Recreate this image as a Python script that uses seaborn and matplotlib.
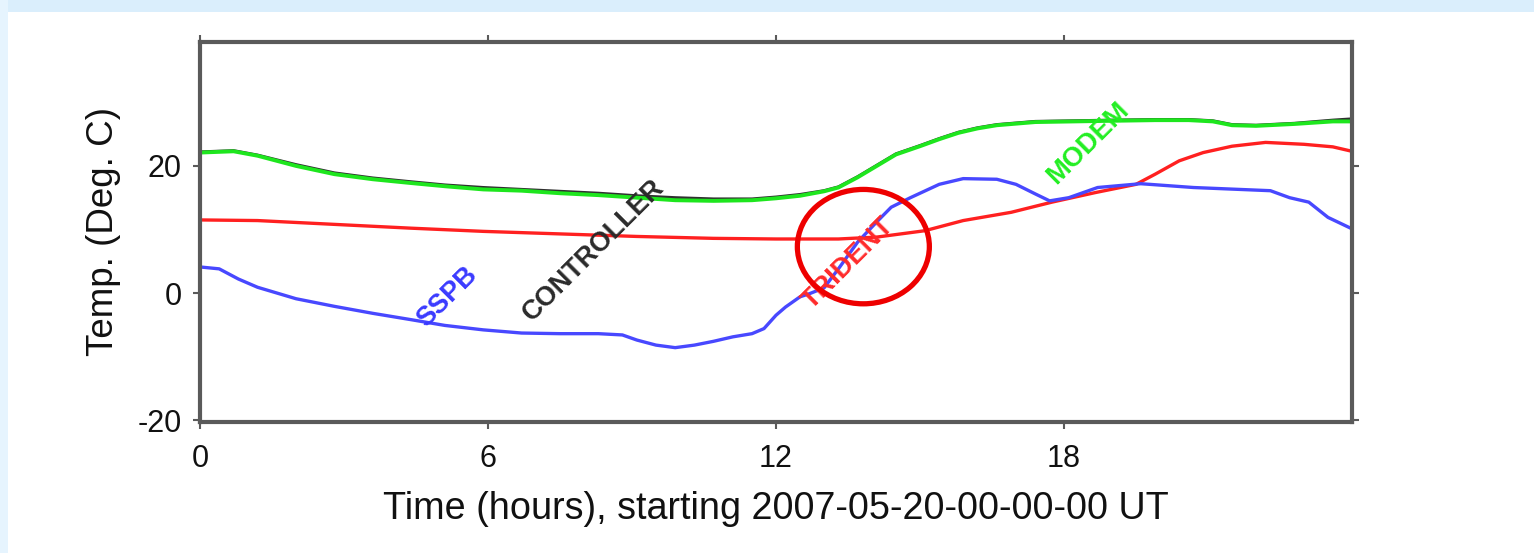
import numpy as np
import pandas as pd
import matplotlib
matplotlib.use("Agg")
import matplotlib.pyplot as plt
from matplotlib.patches import Ellipse, Rectangle
import seaborn as sns

# ---------------- data ----------------
modem_t = [0, 0.7, 1.2, 2.0, 2.8, 3.6, 4.4, 5.1, 5.9, 6.7, 7.5, 8.3, 9.1, 9.9, 10.7,
           11.5, 12.0, 12.5, 13.0, 13.3, 13.7, 14.1, 14.5, 15.0, 15.4, 15.8, 16.2,
           16.6, 17.4, 18.2, 19.0, 19.9, 20.6, 21.1, 21.5, 22.0, 22.8, 23.6, 24.0]
modem_v = [22.1, 22.3, 21.6, 20.0, 18.7, 17.9, 17.3, 16.8, 16.3, 16.1, 15.7, 15.4,
           15.0, 14.6, 14.5, 14.6, 14.9, 15.3, 16.0, 16.6, 18.2, 20.0, 21.8, 23.1,
           24.2, 25.2, 25.9, 26.4, 26.9, 27.0, 27.1, 27.2, 27.2, 27.0, 26.4, 26.3,
           26.6, 27.0, 27.0]

controller_t = modem_t
controller_v = [22.2, 22.4, 21.7, 20.2, 18.9, 18.1, 17.5, 17.0, 16.6, 16.3, 16.0,
                15.7, 15.3, 15.0, 14.8, 14.8, 15.1, 15.5, 16.1, 16.7, 18.3, 20.1,
                21.9, 23.2, 24.3, 25.3, 26.0, 26.5, 27.0, 27.1, 27.2, 27.3, 27.3,
                27.1, 26.5, 26.4, 26.7, 27.2, 27.4]

trident_t = [0, 1.2, 2.8, 4.4, 5.9, 7.5, 9.1, 10.7, 12.0, 13.3, 14.1, 15.1, 15.9,
             16.9, 17.75, 18.65, 19.5, 19.9, 20.4, 20.9, 21.5, 22.2, 23.0, 23.6, 24.0]
trident_v = [11.5, 11.4, 10.8, 10.2, 9.7, 9.3, 8.9, 8.6, 8.5, 8.5, 8.8, 9.8, 11.4,
             12.7, 14.3, 15.8, 17.1, 18.7, 20.8, 22.1, 23.1, 23.7, 23.4, 23.0, 22.3]

sspb_t = [0, 0.4, 0.8, 1.2, 2.0, 2.8, 3.6, 4.4, 5.1, 5.9, 6.7, 7.5, 8.3, 8.8, 9.1,
          9.5, 9.9, 10.3, 10.7, 11.1, 11.5, 11.75, 12.0, 12.2, 12.5, 12.7, 13.0,
          13.3, 13.7, 14.1, 14.4, 14.8, 15.4, 15.9, 16.6, 17.0, 17.4, 17.7, 18.1,
          18.7, 19.6, 20.7, 22.3, 22.7, 23.1, 23.5, 24.0]
sspb_v = [4.1, 3.8, 2.2, 0.9, -0.9, -2.1, -3.2, -4.2, -5.1, -5.8, -6.3, -6.4, -6.4,
          -6.6, -7.4, -8.2, -8.6, -8.2, -7.6, -6.9, -6.4, -5.6, -3.5, -2.2, -0.6,
          -0.1, 0.8, 3.8, 8.0, 11.2, 13.5, 15.0, 17.1, 18.0, 17.9, 17.1, 15.6,
          14.5, 15.0, 16.6, 17.2, 16.6, 16.1, 15.0, 14.3, 11.9, 10.1]

series_names = ["CONTROLLER", "MODEM", "TRIDENT", "SSPB"]
x_ticks = [0, 6, 12, 18]
y_ticks = [-20, 0, 20]
x_label = "Time (hours), starting 2007-05-20-00-00-00 UT"
y_label = "Temp. (Deg. C)"

colors = {"CONTROLLER": "#303030", "MODEM": "#1ee61e",
          "TRIDENT": "#ff2020", "SSPB": "#4848ff"}
widths = {"CONTROLLER": 2.2, "MODEM": 2.8, "TRIDENT": 2.4, "SSPB": 2.4}
label_colors = {"CONTROLLER": "#2a2a2a", "MODEM": "#22ee22",
                "TRIDENT": "#ff2a2a", "SSPB": "#3a3aff"}
label_pos = {"SSPB": (5.16, -0.6), "CONTROLLER": (8.2, 6.7),
             "TRIDENT": (13.5, 4.6), "MODEM": (18.5, 23.6)}

frames = []
for name, t, v in [("CONTROLLER", controller_t, controller_v),
                   ("MODEM", modem_t, modem_v),
                   ("TRIDENT", trident_t, trident_v),
                   ("SSPB", sspb_t, sspb_v)]:
    frames.append(pd.DataFrame({"t": t, "temp": v, "sensor": name}))
df = pd.concat(frames, ignore_index=True)

# ---------------- styling ----------------
sns.set_theme(style="ticks")
plt.rcParams["font.family"] = ["Liberation Sans", "DejaVu Sans"]
plt.rcParams["axes.unicode_minus"] = False

fig = plt.figure(figsize=(15.34, 5.53), dpi=100, facecolor="white")
# light blue page strips
fig.patches.append(Rectangle((0, 1 - 12 / 553), 1, 12 / 553, transform=fig.transFigure,
                             facecolor="#daeefc", edgecolor="none", zorder=0))
fig.patches.append(Rectangle((0, 0), 8 / 1534, 1, transform=fig.transFigure,
                             facecolor="#e6f4fe", edgecolor="none", zorder=0))

ax = fig.add_axes([200 / 1534, 1 - 422 / 553, (1352 - 200) / 1534, (422 - 42) / 553])
ax.set_facecolor("white")

for name in series_names:
    sns.lineplot(data=df[df["sensor"] == name], x="t", y="temp",
                 color=colors[name], estimator=None, sort=True, legend=False,
                 linewidth=widths[name], ax=ax)

ax.set_xlim(0, 24)
ax.set_ylim(-20.3, 39.5)
ax.set_xticks(x_ticks)
ax.set_yticks(y_ticks)
ax.set_xlabel(x_label, fontsize=27.2, labelpad=12, color="#111111")
ax.set_ylabel(y_label, fontsize=26.5, labelpad=12, color="#111111")

for s in ax.spines.values():
    s.set_visible(True)
    s.set_color("#5a5a5a")
    s.set_linewidth(3.0)
ax.tick_params(axis="both", which="both", direction="out", length=5, width=1.5,
               color="#5a5a5a", labelsize=22, labelcolor="#111111",
               top=True, right=True)
ax.tick_params(axis="x", pad=11)
ax.tick_params(axis="y", pad=8)

for name in series_names:
    x, y = label_pos[name]
    ax.text(x, y, name, rotation=45, rotation_mode="anchor", ha="center",
            va="center", fontsize=19.5, fontweight="bold",
            color=label_colors[name])

ax.add_patch(Ellipse((13.82, 7.3), width=2.75, height=18.0, fill=False,
                     edgecolor="#ee0000", linewidth=3.8, zorder=5))

fig.savefig("out.png", dpi=100, facecolor=fig.get_facecolor())
